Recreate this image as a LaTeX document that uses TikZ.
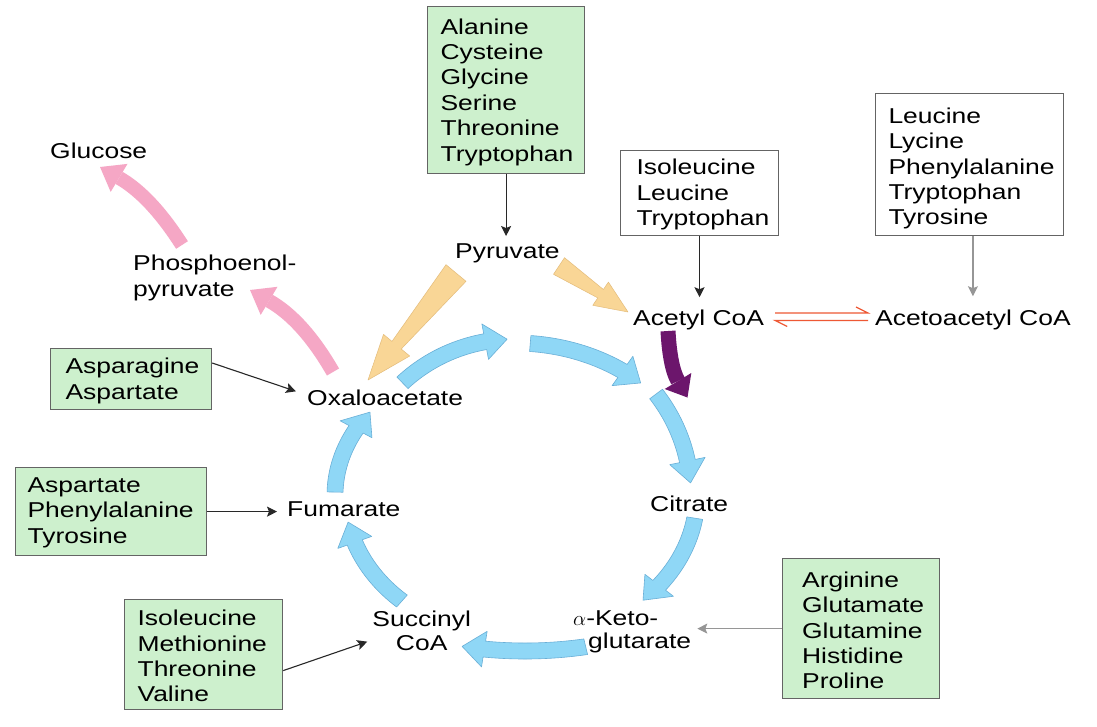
\documentclass[tikz,border=0pt]{standalone}
\usepackage{fontspec}
\setmainfont{Liberation Sans}[FakeStretch=1.23]
\usetikzlibrary{arrows.meta}
\definecolor{cycblue}{RGB}{143,215,246}
\definecolor{cycedge}{RGB}{105,175,215}
\definecolor{tanfill}{RGB}{249,214,150}
\definecolor{tanedge}{RGB}{228,188,122}
\definecolor{pinkfill}{RGB}{245,167,197}
\definecolor{purpfill}{RGB}{108,22,108}
\definecolor{boxgreen}{RGB}{205,240,205}
\definecolor{boxedge}{RGB}{100,100,100}
\definecolor{harpred}{RGB}{238,88,52}
\definecolor{darkline}{RGB}{40,40,40}
\definecolor{greyline}{RGB}{150,150,150}
\newcommand\labfont{\fontsize{21.5pt}{25.4pt}\selectfont}
\newcommand\cyc[7]{%
 \pgfmathsetmacro\cycb{#6-#7}%
 \pgfmathsetmacro\cox{#3+8}\pgfmathsetmacro\coy{#4+8}%
 \pgfmathsetmacro\cix{#3-8}\pgfmathsetmacro\ciy{#4-8}%
 \pgfmathsetmacro\chx{#3+18}\pgfmathsetmacro\chy{#4+18}%
 \pgfmathsetmacro\cjx{#3-18}\pgfmathsetmacro\cjy{#4-18}%
 \filldraw[cyclearrow] plot[domain=#5:\cycb,samples=40] ({#1+\cox*cos(\x)},{#2+\coy*sin(\x)})
   -- ({#1+\chx*cos(\cycb)},{#2+\chy*sin(\cycb)})
   -- ({#1+#3*cos(#6)},{#2+#4*sin(#6)})
   -- ({#1+\cjx*cos(\cycb)},{#2+\cjy*sin(\cycb)})
   -- plot[domain=\cycb:#5,samples=40] ({#1+\cix*cos(\x)},{#2+\ciy*sin(\x)}) -- cycle;}
\begin{document}
\begin{tikzpicture}[x=1pt,y=-1pt,
  cyclearrow/.style={fill=cycblue, draw=cycedge, line width=0.6pt, line join=round},
  lab/.style={inner sep=0pt, font=\labfont},
  boxg/.style={draw=boxedge, line width=1.2pt, fill=boxgreen, anchor=north west, align=left, inner ysep=0pt, font=\labfont},
  boxw/.style={draw=boxedge, line width=1pt, fill=white, anchor=north west, align=left, inner ysep=0pt, font=\labfont},
  conn/.style={draw=darkline, line width=1.1pt, -{Stealth[length=10pt,width=10pt,inset=2pt]}},
  conng/.style={draw=greyline, line width=1.1pt, -{Stealth[length=10pt,width=10pt,inset=2pt]}},
  harp/.style={draw=harpred, line width=1.2pt},
  tanarrow/.style={fill=tanfill, draw=tanedge, line width=0.5pt, line join=round},
  pinkshaft/.style={draw=pinkfill, line width=14pt},
  purpshaft/.style={draw=purpfill, line width=15pt}]
\useasboundingbox (0,0) rectangle (1097,726);
\fill[white] (0,0) rectangle (1097,726);

% boxes
\node[boxg, inner xsep=13pt, text width=131pt] (b1) at (427,6)
  {\rule{0pt}{27.5pt}Alanine\\Cysteine\\Glycine\\Serine\\Threonine\\Tryptophan\rule[-12pt]{0pt}{0pt}};
\node[boxw, inner xsep=16pt, text width=126pt] (b2) at (620,150)
  {\rule{0pt}{24.3pt}Isoleucine\\Leucine\\Tryptophan\rule[-9.9pt]{0pt}{0pt}};
\node[boxw, inner xsep=13pt, text width=162pt] (b3) at (875,93)
  {\rule{0pt}{29.7pt}Leucine\\Lycine\\Phenylalanine\\Tryptophan\\Tyrosine\rule[-10.7pt]{0pt}{0pt}};
\node[boxg, inner xsep=15pt, text width=131pt] (b4) at (50,348)
  {\rule{0pt}{25.3pt}Asparagine\\Aspartate\rule[-10.3pt]{0pt}{0pt}};
\node[boxg, inner xsep=12pt, text width=167pt] (b5) at (15,467)
  {\rule{0pt}{24.7pt}Aspartate\\Phenylalanine\\Tyrosine\rule[-12.5pt]{0pt}{0pt}};
\node[boxg, inner xsep=13pt, text width=132pt] (b6) at (124,599)
  {\rule{0pt}{26pt}Isoleucine\\Methionine\\Threonine\\Valine\rule[-7.8pt]{0pt}{0pt}};
\node[boxg, inner xsep=19.5pt, text width=118pt] (b7) at (782,558)
  {\rule{0pt}{28.7pt}Arginine\\Glutamate\\Glutamine\\Histidine\\Proline\rule[-9.7pt]{0pt}{0pt}};

% labels
\node[lab, anchor=base west] (glu) at (50,158) {Glucose};
\node[lab, anchor=north west, align=left, font=\fontsize{21.5pt}{26.5pt}\selectfont] (pep) at (133,252)
  {\rule{0pt}{18pt}Phosphoenol-\\pyruvate};
\node[lab, anchor=base west] (pyr) at (455,258) {Pyruvate};
\node[lab, anchor=base west] (acetyl) at (633,325) {Acetyl CoA};
\node[lab, anchor=base west] (aceto) at (875,325) {Acetoacetyl CoA};
\node[lab, anchor=base west] (oxa) at (307,405) {Oxaloacetate};
\node[lab, anchor=base west] (fum) at (287,516.7) {Fumarate};
\node[lab, anchor=base west] (cit) at (650,511.7) {Citrate};
\node[lab, anchor=north west, align=left, font=\fontsize{21.5pt}{23.3pt}\selectfont] (akg) at (573,607)
  {\rule{0pt}{18pt}$\alpha$-Keto-\\\hspace*{15pt}glutarate};
\node[lab, anchor=north, align=center, font=\fontsize{21.5pt}{23.3pt}\selectfont] (succ) at (421.7,608.7)
  {\rule{0pt}{18pt}Succinyl\\CoA};

% cycle arrows
\cyc{515}{495}{162}{156}{226}{267.2}{7.8}
\cyc{515}{495}{186}{152}{-85.3}{-47.5}{7.2}
\cyc{515}{495}{176}{169}{-36.7}{-4.1}{7.5}
\cyc{515}{495}{182}{148}{9}{45.3}{7.7}
\cyc{525}{496}{260}{155}{76.5}{104}{5}
\cyc{515}{495}{170}{142}{131.7}{169}{8.5}
\cyc{515}{495}{180}{140}{181.2}{216.3}{8.3}

% tan arrows from pyruvate
\filldraw[tanarrow] (446.0,264.7) -- (466.0,281.3) -- (401.2,349.0) -- (409.7,356.0) -- (368,380) -- (383.5,334.4) -- (392.0,341.4) -- cycle;
\filldraw[tanarrow] (564.5,257.7) -- (553.5,274.3) -- (597.8,297.9) -- (592.8,305.3) -- (628,312) -- (608.4,282.1) -- (603.4,289.5) -- cycle;

% pink arrows (gluconeogenesis)
\coordinate (p1t) at (333,372);
\coordinate (p1n) at (269.1,300.8);
\draw[pinkshaft] (p1t) .. controls (313,337.3) and (291.7,313.6) .. (p1n);
\fill[pinkfill] (277.5,286.8) -- (250,290) -- (260.7,314.9) -- cycle;
\coordinate (p2t) at (182,245);
\coordinate (p2n) at (119.1,177.9);
\draw[pinkshaft] (p2t) .. controls (161.1,212.3) and (140.1,189.9) .. (p2n);
\fill[pinkfill] (127.5,163.9) -- (100,167) -- (110.7,191.9) -- cycle;

% purple arrow
\coordinate (q1) at (668,331);
\coordinate (qn) at (678,381);
\draw[purpshaft] (q1) .. controls (669.3,355) and (672.7,371.7) .. (qn);
\fill[purpfill] (664.7,389) -- (687.5,397.5) -- (691.3,373) -- cycle;

% connectors
\coordinate (pyrtop) at ([yshift=7pt]pyr.north);
\draw[conn] (b1.south) -- (b1.south |- pyrtop);
\coordinate (acettop) at ([yshift=12pt]acetyl.north);
\draw[conn] (b2.south) -- (b2.south |- acettop);
\coordinate (acetotop) at ([yshift=13pt]aceto.north);
\draw[conng] (b3.south -| acetotop) -- (acetotop);
\coordinate (oxain) at ([xshift=-11pt,yshift=6pt]oxa.west);
\draw[conn] ([yshift=-15pt]b4.north east) -- (oxain);
\coordinate (fumin) at ([xshift=-10pt]fum.west);
\draw[conn] (b5.east) -- (b5.east -| fumin);
\coordinate (succin) at ([xshift=-5pt,yshift=-12pt]succ.west);
\draw[conn] ([yshift=-16pt]b6.east) -- (succin);
\coordinate (akgin) at ([xshift=6pt]akg.east);
\draw[conng] (b7.west) -- (b7.west -| akgin);

% equilibrium harpoons
\coordinate (hl1) at ([xshift=11pt,yshift=12pt]acetyl.base east);
\coordinate (hr1) at ([xshift=-7pt,yshift=12pt]aceto.base west);
\coordinate (hl2) at ([xshift=11pt,yshift=4.5pt]acetyl.base east);
\coordinate (hr2) at ([xshift=-7pt,yshift=4.5pt]aceto.base west);
\draw[harp] (hl1) -- (hr1) -- ++(-12,-6);
\draw[harp] (hr2) -- (hl2) -- ++(12,6);
\end{tikzpicture}
\end{document}
